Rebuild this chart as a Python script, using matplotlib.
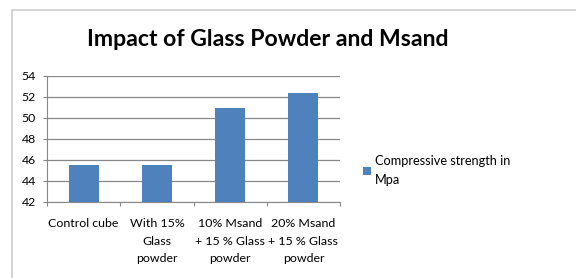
import matplotlib.pyplot as plt
import numpy as np
from matplotlib.patches import Rectangle

# Data
categories = ["Control cube", "With 15%\nGlass\npowder",
              "10% Msand\n+ 15 % Glass\npowder", "20% Msand\n+ 15 % Glass\npowder"]
strength = [45.5, 45.5, 50.9, 52.4]
series_name = "Compressive strength in\nMpa"
yticks = [42, 44, 46, 48, 50, 52, 54]

plt.rcParams['font.family'] = ['Lato', 'DejaVu Sans']

fig = plt.figure(figsize=(5.76, 2.78), dpi=100)

# chart border (Excel style)
fig.patches.append(Rectangle((12 / 576, -0.1), 1.0, 1.1 - 10 / 278,
                             transform=fig.transFigure, fill=False,
                             edgecolor='#cccccc', linewidth=1.2))

ax = fig.add_axes([47 / 576, 1 - 201.7 / 278, 293 / 576, 125.7 / 278])

x = np.arange(len(categories))
ax.bar(x, strength, width=0.41, color='#4f81bd', label=series_name, zorder=3)

ax.set_ylim(42, 54)
ax.set_xlim(-0.5, len(categories) - 0.5)
ax.set_yticks(yticks)
ax.tick_params(axis='y', labelsize=8.8, length=3, color='#888888', pad=5)
ax.yaxis.grid(True, color='#888888', linewidth=0.9, zorder=0)

ax.set_xticks(np.arange(len(categories) + 1) - 0.5)
ax.set_xticklabels([])
ax.set_xticks(x, minor=True)
ax.set_xticklabels(categories, minor=True, fontsize=8.9, linespacing=1.7)
ax.tick_params(axis='x', which='major', length=3, color='#888888')
ax.tick_params(axis='x', which='minor', length=0, pad=12)

for side in ['top', 'right']:
    ax.spines[side].set_visible(False)
for side in ['left', 'bottom']:
    ax.spines[side].set_color('#888888')

fig.text(268 / 576, 1 - 39 / 278, "Impact of Glass Powder and Msand",
         ha='center', va='center', fontsize=16.6, fontweight='bold')

leg = ax.legend(loc='center left', bbox_to_anchor=(1.04, 0.25), frameon=False,
                fontsize=9.2, handlelength=0.6, handleheight=0.6,
                handletextpad=0.3)
for t in leg.get_texts():
    t.set_linespacing(1.7)

plt.savefig("out.png", dpi=100)
